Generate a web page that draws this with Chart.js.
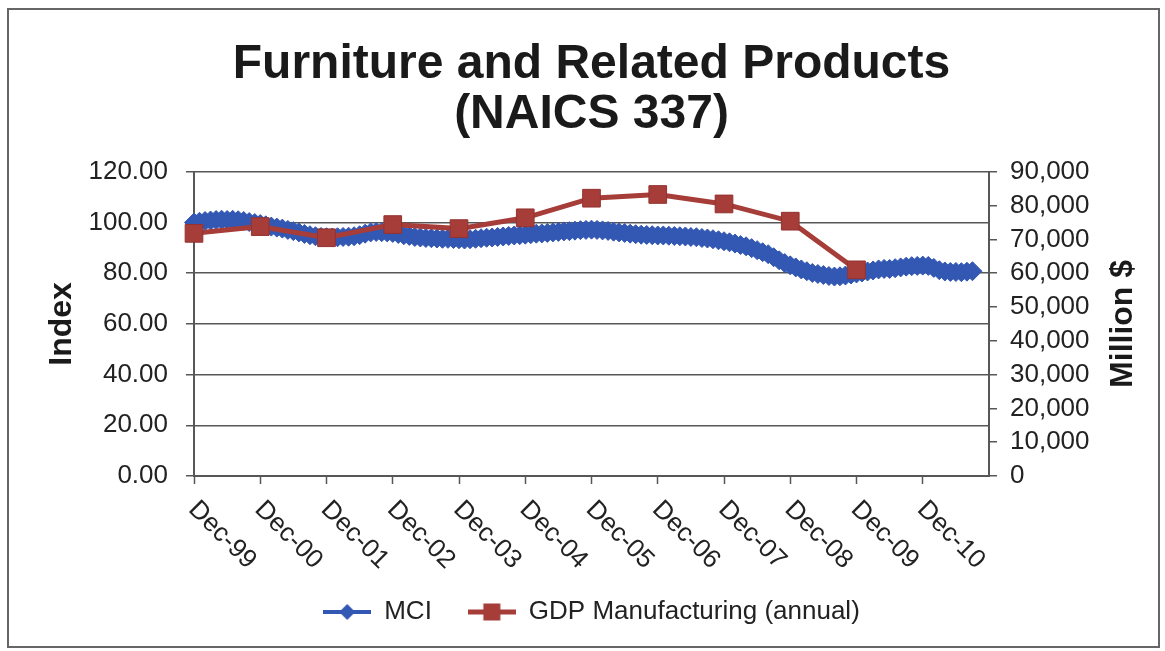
<!DOCTYPE html>
<html>
<head>
<meta charset="utf-8">
<title>Furniture and Related Products (NAICS 337)</title>
<script src="https://cdn.jsdelivr.net/npm/chart.js@4.4.1/dist/chart.umd.min.js"></script>
<style>
  html, body { margin: 0; padding: 0; background: #fff; }
  canvas { display: block; }
</style>
</head>
<body>
<canvas id="furnitureChart" width="1165" height="651"></canvas>
<script>
// Categories: one per month, Dec-99 .. Dec-11
const monthNames = ['Jan', 'Feb', 'Mar', 'Apr', 'May', 'Jun', 'Jul', 'Aug', 'Sep', 'Oct', 'Nov', 'Dec'];
const axisYears = ['99', '00', '01', '02', '03', '04', '05', '06', '07', '08', '09', '10', '11'];

// Labels shown under the x axis
const xTickLabels = ['Dec-99', 'Dec-00', 'Dec-01', 'Dec-02', 'Dec-03', 'Dec-04',
                     'Dec-05', 'Dec-06', 'Dec-07', 'Dec-08', 'Dec-09', 'Dec-10'];

// MCI index, monthly from Dec-99 to Sep-11
const mciValues = [
    100.0, 100.3, 100.6, 100.8, 101.0, 101.1, 101.0, 101.1, 100.9, 100.6, 100.2, 99.8,
    99.4, 98.9, 98.4, 98.0, 97.6, 97.1, 96.6, 96.1, 95.5, 95.0, 94.6, 94.3,
    94.2, 94.1, 94.2, 94.3, 94.4, 94.6, 95.0, 95.6, 96.1, 96.3, 96.2, 96.1,
    95.9, 95.5, 95.0, 94.7, 94.3, 94.1, 93.9, 93.8, 93.7, 93.6, 93.6, 93.5,
    93.4, 93.3, 93.4, 93.6, 93.8, 94.0, 94.1, 94.3, 94.5, 94.7, 94.9, 95.0,
    95.2, 95.4, 95.6, 95.7, 95.9, 96.1, 96.3, 96.5, 96.6, 96.8, 97.0, 97.1,
    97.2, 97.1, 96.9, 96.7, 96.4, 96.1, 95.9, 95.6, 95.4, 95.2, 95.1, 95.0,
    94.9, 94.9, 94.8, 94.7, 94.6, 94.5, 94.3, 94.2, 93.9, 93.7, 93.4, 93.0,
    92.6, 92.2, 91.7, 91.1, 90.6, 89.9, 89.1, 88.3, 87.5, 86.3, 85.1, 84.0,
    83.1, 82.3, 81.5, 80.8, 80.1, 79.7, 79.3, 78.9, 78.7, 78.8, 79.1, 79.5,
    79.9, 80.3, 80.7, 81.1, 81.5, 81.7, 81.7, 82.0, 82.3, 82.6, 82.8, 82.9,
    83.0, 82.9, 82.1, 81.2, 80.7, 80.5, 80.5, 80.4, 80.6, 80.8
];

// GDP manufacturing, million $, one value each December 1999..2009
const gdpYears = ['Dec-99', 'Dec-00', 'Dec-01', 'Dec-02', 'Dec-03', 'Dec-04',
                  'Dec-05', 'Dec-06', 'Dec-07', 'Dec-08', 'Dec-09'];
const gdpValues = [71800, 73800, 70500, 74400, 73200, 76400, 82200, 83300, 80500, 75400, 61000];

const FONT = '"Liberation Sans", Arial, Helvetica, sans-serif';
const BLUE = '#3358b3';
const RED = '#a63d39';
const AXIS_GREY = '#575757';

document.addEventListener('DOMContentLoaded', function() {
    initFurnitureChart();
});

function buildCategories() {
    const labels = [];
    // starts at Dec-99 (month index 11)
    for (let i = 0; i < 145; i++) {
        const m = (11 + i) % 12;
        const y = Math.floor((11 + i) / 12);
        labels.push(monthNames[m] + '-' + axisYears[y]);
    }
    return labels;
}

function makeLegendIcon(color, lineWidth, shape, size) {
    const c = document.createElement('canvas');
    c.width = 48;
    c.height = 22;
    const g = c.getContext('2d');
    g.strokeStyle = color;
    g.lineWidth = lineWidth;
    g.beginPath();
    g.moveTo(0, 11);
    g.lineTo(48, 11);
    g.stroke();
    g.fillStyle = color;
    if (shape === 'diamond') {
        g.beginPath();
        g.moveTo(24, 11 - size);
        g.lineTo(24 + size, 11);
        g.lineTo(24, 11 + size);
        g.lineTo(24 - size, 11);
        g.closePath();
        g.fill();
    } else {
        g.fillRect(24 - size / 2, 11 - size / 2, size, size);
    }
    return c;
}

// white page + thin frame round the chart
const framePlugin = {
    id: 'frame',
    beforeDraw(chart) {
        const ctx = chart.ctx;
        ctx.save();
        ctx.fillStyle = '#fff';
        ctx.fillRect(0, 0, chart.width, chart.height);
        ctx.strokeStyle = '#666';
        ctx.lineWidth = 2;
        ctx.strokeRect(8, 9, 1151, 638);
        ctx.restore();
    }
};

// Dec-xx labels, rotated down to the right
const decLabelsPlugin = {
    id: 'decLabels',
    afterDraw(chart) {
        const ctx = chart.ctx;
        const xs = chart.scales.x;
        const bottom = chart.chartArea.bottom;
        ctx.save();
        ctx.font = '26px ' + FONT;
        ctx.fillStyle = '#222';
        ctx.textAlign = 'left';
        ctx.textBaseline = 'alphabetic';
        chart.data.labels.forEach((label, i) => {
            if (!xTickLabels.includes(label)) return;
            const x = xs.getPixelForValue(i);
            ctx.save();
            ctx.translate(x + 7, bottom + 21);
            ctx.rotate(Math.PI / 4);
            ctx.fillText(label, 0, 19);
            ctx.restore();
        });
        ctx.restore();
    }
};

// axis titles, both reading bottom to top
const axisTitlesPlugin = {
    id: 'axisTitles',
    afterDraw(chart) {
        const ctx = chart.ctx;
        const area = chart.chartArea;
        const midY = (area.top + area.bottom) / 2;
        ctx.save();
        ctx.font = 'bold 32px ' + FONT;
        ctx.fillStyle = '#1a1a1a';
        ctx.textAlign = 'center';
        ctx.textBaseline = 'middle';
        [['Index', 62], ['Million $', 1123]].forEach(([text, x]) => {
            ctx.save();
            ctx.translate(x, midY);
            ctx.rotate(-Math.PI / 2);
            ctx.fillText(text, 0, 0);
            ctx.restore();
        });
        ctx.restore();
    }
};

function initFurnitureChart() {
    const categories = buildCategories();

    // annual GDP placed on its December category
    const gdpSeries = categories.map(label => {
        const k = gdpYears.indexOf(label);
        return k >= 0 ? gdpValues[k] : null;
    });

    const legendIcons = [
        makeLegendIcon(BLUE, 4, 'diamond', 8),
        makeLegendIcon(RED, 5, 'square', 17)
    ];

    const ctx = document.getElementById('furnitureChart').getContext('2d');
    new Chart(ctx, {
        type: 'line',
        data: {
            labels: categories,
            datasets: [{
                label: 'MCI',
                data: mciValues,
                yAxisID: 'y',
                borderColor: BLUE,
                backgroundColor: BLUE,
                borderWidth: 3,
                pointStyle: 'rectRot',
                pointRadius: 9.5,
                pointBorderWidth: 1,
                pointBackgroundColor: BLUE,
                pointBorderColor: BLUE,
                tension: 0,
                order: 2
            }, {
                label: 'GDP Manufacturing (annual)',
                data: gdpSeries,
                yAxisID: 'y1',
                borderColor: RED,
                backgroundColor: RED,
                borderWidth: 5,
                pointStyle: 'rect',
                pointRadius: 12.5,
                pointBorderWidth: 1,
                pointBackgroundColor: RED,
                pointBorderColor: '#93322f',
                spanGaps: true,
                tension: 0,
                order: 1
            }]
        },
        options: {
            responsive: false,
            animation: false,
            devicePixelRatio: 1,
            layout: {
                padding: { left: 18, right: 0, top: 0, bottom: 16 }
            },
            plugins: {
                title: {
                    display: true,
                    text: ['Furniture and Related Products', '(NAICS 337)'],
                    color: '#1a1a1a',
                    font: { family: FONT, size: 48, weight: 'bold', lineHeight: 1.04 },
                    padding: { top: 40, bottom: 32 }
                },
                legend: {
                    position: 'bottom',
                    labels: {
                        color: '#222',
                        font: { family: FONT, size: 26 },
                        usePointStyle: true,
                        pointStyleWidth: 48,
                        padding: 36,
                        generateLabels(chart) {
                            const items = Chart.defaults.plugins.legend.labels.generateLabels(chart);
                            items.forEach(item => {
                                item.pointStyle = legendIcons[item.datasetIndex];
                                item.rotation = 0;
                            });
                            return items.sort((a, b) => a.datasetIndex - b.datasetIndex);
                        }
                    }
                },
                tooltip: { enabled: false }
            },
            scales: {
                x: {
                    type: 'category',
                    afterFit(scale) { scale.height = 87; },
                    ticks: { display: false, autoSkip: false },
                    grid: {
                        drawOnChartArea: false,
                        drawTicks: true,
                        tickLength: 8,
                        tickWidth: 1.5,
                        tickColor: c => (c.tick && xTickLabels.includes(categories[c.index])) ? AXIS_GREY : 'rgba(0,0,0,0)'
                    },
                    border: { display: true, color: AXIS_GREY, width: 2 }
                },
                y: {
                    position: 'left',
                    min: 0,
                    max: 120,
                    afterFit(scale) { scale.width = 176; },
                    ticks: {
                        stepSize: 20,
                        autoSkip: false,
                        padding: 18,
                        color: '#222',
                        font: { family: FONT, size: 26 },
                        callback: v => v.toFixed(2)
                    },
                    grid: { color: AXIS_GREY, lineWidth: 1.5, tickLength: 8 },
                    border: { color: AXIS_GREY, width: 2 }
                },
                y1: {
                    position: 'right',
                    min: 0,
                    max: 90000,
                    afterFit(scale) { scale.width = 176; },
                    ticks: {
                        stepSize: 10000,
                        autoSkip: false,
                        padding: 13,
                        color: '#222',
                        font: { family: FONT, size: 26 },
                        callback: v => v.toLocaleString('en-US')
                    },
                    grid: { drawOnChartArea: false, color: AXIS_GREY, lineWidth: 1.5, tickLength: 8 },
                    border: { color: AXIS_GREY, width: 2 }
                }
            }
        },
        plugins: [framePlugin, decLabelsPlugin, axisTitlesPlugin]
    });
}
</script>
</body>
</html>
